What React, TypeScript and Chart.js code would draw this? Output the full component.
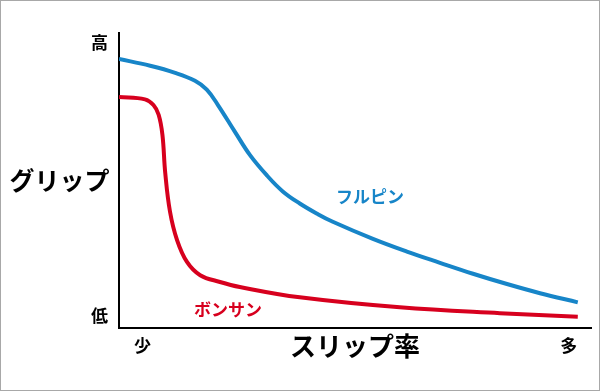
import React, { useEffect, useRef } from "react";
import { Chart, registerables } from "chart.js";

Chart.register(...registerables);

// ---- data ----
const seriesNames = ["フルピン", "ボンサン"];
const seriesColors = ["#1785c8", "#d7001e"];

const fullpinX = [0, 6.6, 11.9, 16.1, 18.6, 21.0, 24.6, 27.8, 31.4, 34.7, 38.3, 41.9, 45.3, 53.8, 61.0, 68.0, 75.0, 82.2, 89.2, 97.2];
const fullpinY = [91.2, 88.9, 86.5, 83.8, 80.8, 75.5, 66.4, 58.5, 51.6, 46.3, 42.2, 38.8, 36.0, 30.2, 25.9, 22.1, 18.4, 14.9, 11.8, 8.7];

const bonsanX = [0, 5.5, 7.3, 8.4, 9.2, 9.8, 10.8, 12.3, 14.4, 17.2, 21.4, 25.6, 38.3, 59.5, 80.7, 97.2];
const bonsanY = [78.3, 77.5, 75.6, 72.3, 65.5, 52.5, 39.5, 29.8, 22.4, 17.9, 15.6, 13.9, 10.4, 7.0, 5.0, 3.8];

const yTickValues = [96.8, 4.2];
const yTickLabels = ["高", "低"];
const xTickValues = [5.0, 95.3];
const xTickLabels = ["少", "多"];

const xTitle = "スリップ率";
const yTitle = "グリップ";

const labelX = [53.2, 23.1];
const labelY = [44.7, 6.4];

const FONT = "'Noto Sans CJK JP', 'Noto Sans', sans-serif";

const toPoints = (xs: number[], ys: number[]) => xs.map((x, i) => ({ x, y: ys[i] }));

const overlayPlugin = {
  id: "overlayText",
  afterDraw(chart: any) {
    const { ctx, chartArea, scales } = chart;
    ctx.save();
    ctx.textAlign = "center";
    ctx.textBaseline = "middle";
    ctx.fillStyle = "#000";
    ctx.font = `bold 25px ${FONT}`;
    ctx.fillText(yTitle, chartArea.left / 2, (chartArea.top + chartArea.bottom) / 2);
    ctx.font = `bold 17px ${FONT}`;
    seriesNames.forEach((name, i) => {
      ctx.fillStyle = seriesColors[i];
      ctx.fillText(name, scales.x.getPixelForValue(labelX[i]), scales.y.getPixelForValue(labelY[i]));
    });
    ctx.restore();
  },
};

export default function App() {
  const canvasRef = useRef<HTMLCanvasElement | null>(null);

  useEffect(() => {
    if (!canvasRef.current) return;
    const chart = new Chart(canvasRef.current, {
      type: "line",
      data: {
        datasets: [
          {
            label: seriesNames[0],
            data: toPoints(fullpinX, fullpinY),
            borderColor: seriesColors[0],
            borderWidth: 4,
            pointRadius: 0,
            tension: 0.4,
            fill: false,
          },
          {
            label: seriesNames[1],
            data: toPoints(bonsanX, bonsanY),
            borderColor: seriesColors[1],
            borderWidth: 4,
            pointRadius: 0,
            tension: 0.4,
            fill: false,
          },
        ],
      },
      options: {
        responsive: false,
        animation: false,
        layout: { padding: { top: 33, right: 9, left: 0, bottom: 0 } },
        plugins: { legend: { display: false }, tooltip: { enabled: false } },
        scales: {
          x: {
            type: "linear",
            min: 0,
            max: 100,
            grid: { display: false, drawTicks: false },
            border: { display: true, color: "#000", width: 2 },
            afterBuildTicks: (scale: any) => {
              scale.ticks = xTickValues.map((v) => ({ value: v }));
            },
            afterFit: (scale: any) => {
              scale.height = 63;
            },
            ticks: {
              autoSkip: false,
              maxRotation: 0,
              padding: 7,
              color: "#000",
              font: { family: FONT, size: 17, weight: "bold" },
              callback: (v: any) => {
                const i = xTickValues.indexOf(Number(v));
                return i >= 0 ? xTickLabels[i] : "";
              },
            },
            title: {
              display: true,
              text: xTitle,
              color: "#000",
              font: { family: FONT, size: 26, weight: "bold" },
              padding: { top: 0, bottom: 29 },
            },
          },
          y: {
            type: "linear",
            min: 0,
            max: 100,
            grid: { display: false, drawTicks: false },
            border: { display: true, color: "#000", width: 2 },
            afterBuildTicks: (scale: any) => {
              scale.ticks = yTickValues.map((v) => ({ value: v }));
            },
            afterFit: (scale: any) => {
              scale.width = 119;
            },
            ticks: {
              autoSkip: false,
              padding: 11,
              color: "#000",
              font: { family: FONT, size: 17, weight: "bold" },
              callback: (v: any) => {
                const i = yTickValues.indexOf(Number(v));
                return i >= 0 ? yTickLabels[i] : "";
              },
            },
          },
        },
      },
      plugins: [overlayPlugin],
    } as any);
    return () => chart.destroy();
  }, []);

  return (
    <div style={{ position: "fixed", left: 0, top: 0, width: 600, height: 391, background: "#fff" }}>
      <canvas ref={canvasRef} width={600} height={391} style={{ display: "block", width: 600, height: 391 }} />
      <div
        style={{
          position: "absolute",
          left: 0,
          top: 0,
          width: 600,
          height: 391,
          boxSizing: "border-box",
          border: "1px solid #a8a8a8",
          pointerEvents: "none",
        }}
      />
    </div>
  );
}
